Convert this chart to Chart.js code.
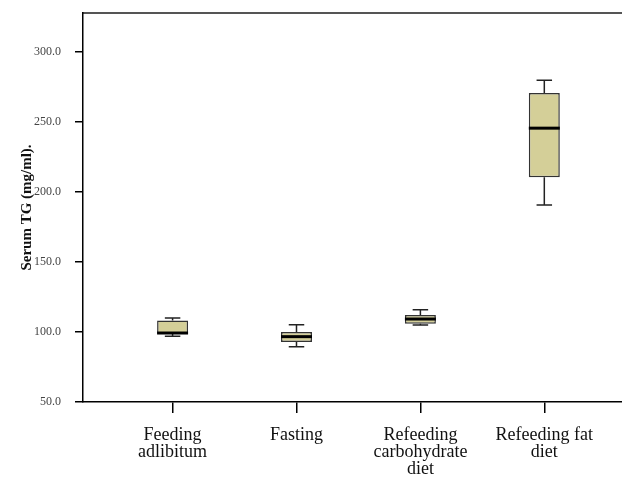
<!DOCTYPE html>
<html>
<head>
<meta charset="utf-8">
<script src="https://cdn.jsdelivr.net/npm/chart.js@4/dist/chart.umd.min.js"></script>
<style>
  html, body { margin: 0; padding: 0; background: #fff; }
  #wrap { width: 622px; height: 477px; }
</style>
</head>
<body>
<div id="wrap"><canvas id="c"></canvas></div>
<script>
// Serum triglyceride by feeding regimen (box plot summaries)
const groups = [
  ['Feeding', 'adlibitum'],
  ['Fasting'],
  ['Refeeding', 'carbohydrate', 'diet'],
  ['Refeeding fat', 'diet']
];
const groupPos = [1, 2, 3, 4];
const whiskerLow  = [96.9, 89.5, 105.0, 190.7];
const quartile1   = [98.8, 92.9, 105.9, 210.7];
const medians     = [99.3, 96.7, 109.3, 245.7];
const quartile3   = [108.3, 100.0, 112.1, 270.9];
const whiskerHigh = [110.0, 105.2, 115.9, 280.0];
const yTicks = [50, 100, 150, 200, 250, 300];

const serif = "'Liberation Serif', 'Times New Roman', serif";

// Whiskers, caps and median lines drawn on top of the floating-bar boxes
const boxExtras = {
  id: 'boxExtras',
  afterDatasetsDraw(chart) {
    const ctx = chart.ctx;
    const xs = chart.scales.x, ys = chart.scales.y;
    const meta = chart.getDatasetMeta(0);
    ctx.save();
    groupPos.forEach((p, i) => {
      const x = xs.getPixelForValue(p);
      const bw = meta.data[i].width;
      const capHalf = bw / 4;
      const yMin = ys.getPixelForValue(whiskerLow[i]);
      const yQ1 = ys.getPixelForValue(quartile1[i]);
      const yQ3 = ys.getPixelForValue(quartile3[i]);
      const yMax = ys.getPixelForValue(whiskerHigh[i]);
      const yMed = ys.getPixelForValue(medians[i]);
      ctx.strokeStyle = '#222';
      ctx.lineWidth = 1.5;
      ctx.beginPath();
      ctx.moveTo(x, yQ3); ctx.lineTo(x, yMax);
      ctx.moveTo(x - capHalf, yMax); ctx.lineTo(x + capHalf, yMax);
      ctx.moveTo(x, yQ1); ctx.lineTo(x, yMin);
      ctx.moveTo(x - capHalf, yMin); ctx.lineTo(x + capHalf, yMin);
      ctx.stroke();
      ctx.strokeStyle = '#000';
      ctx.lineWidth = 3;
      ctx.beginPath();
      ctx.moveTo(x - bw / 2, yMed); ctx.lineTo(x + bw / 2, yMed);
      ctx.stroke();
    });
    ctx.restore();
  }
};

new Chart(document.getElementById('c'), {
  type: 'bar',
  data: {
    datasets: [{
      data: groupPos.map((p, i) => ({ x: p, y: [quartile1[i], quartile3[i]] })),
      backgroundColor: '#D4CF98',
      borderColor: '#333',
      borderWidth: 1.5,
      borderSkipped: false,
      barPercentage: 0.25,
      categoryPercentage: 1
    }]
  },
  options: {
    responsive: true,
    maintainAspectRatio: false,
    animation: false,
    layout: { padding: 0 },
    plugins: { legend: { display: false }, tooltip: { enabled: false } },
    scales: {
      x: {
        type: 'linear',
        position: 'bottom',
        offset: false,
        min: 0.277,
        max: 4.627,
        afterBuildTicks: s => { s.ticks = groupPos.map(v => ({ value: v })); },
        afterFit: s => { s.height = 75; s.paddingLeft = 0; s.paddingRight = 0; },
        border: { display: true, color: '#000', width: 1.5 },
        grid: { display: true, offset: false, drawOnChartArea: false, drawTicks: true, tickLength: 11, color: '#000', lineWidth: 1.5 },
        ticks: {
          padding: 14,
          maxRotation: 0,
          autoSkip: false,
          color: '#111',
          font: { family: serif, size: 18, lineHeight: 0.95 },
          callback: v => groups[groupPos.indexOf(v)] || ''
        }
      },
      xTop: {
        type: 'linear',
        position: 'top',
        min: 0, max: 1,
        afterFit: s => { s.height = 13; },
        border: { display: true, color: '#555', width: 2 },
        grid: { display: false },
        ticks: { display: false }
      },
      y: {
        type: 'linear',
        min: 50,
        max: 328,
        afterBuildTicks: s => { s.ticks = yTicks.map(v => ({ value: v })); },
        afterFit: s => { s.width = 83; s.paddingTop = 0; s.paddingBottom = 0; },
        border: { display: true, color: '#000', width: 1.5 },
        grid: { display: true, drawOnChartArea: false, drawTicks: true, tickLength: 8, color: '#000', lineWidth: 1.5 },
        ticks: {
          padding: 14,
          color: '#444',
          font: { family: serif, size: 12 },
          callback: v => Number(v).toFixed(1)
        },
        title: {
          display: true,
          text: 'Serum TG (mg/ml).',
          color: '#111',
          padding: { top: 18, bottom: 4 },
          font: { family: serif, size: 15, weight: 'bold' }
        }
      }
    }
  },
  plugins: [boxExtras]
});
</script>
</body>
</html>
